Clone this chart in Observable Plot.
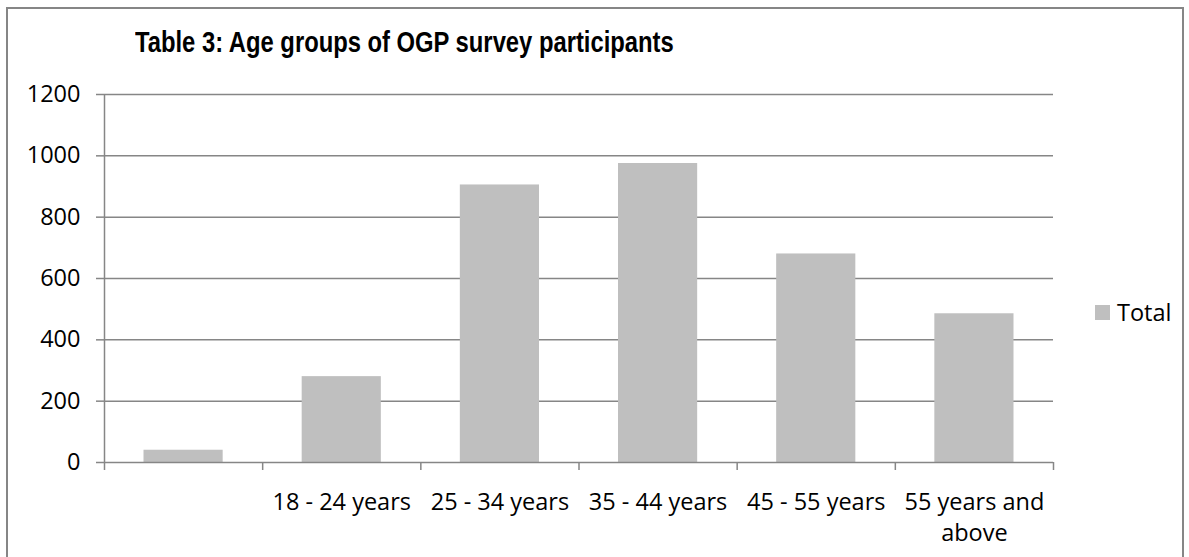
<!DOCTYPE html>
<html>
<head>
<meta charset="utf-8">
<script src="https://cdn.jsdelivr.net/npm/d3@7"></script>
<script src="https://cdn.jsdelivr.net/npm/@observablehq/plot@0.6"></script>
<style>
  html, body { margin: 0; padding: 0; background: #fff; }
  #wrap { position: relative; width: 1189px; height: 557px; overflow: hidden; }
  #frame { position: absolute; left: 6px; top: 7px; width: 1178px; height: 600px; border: 2px solid #868686; box-sizing: border-box; }
  #title { position: absolute; left: 135px; top: 28px; font-family: "Liberation Sans", Arial, sans-serif; font-weight: bold; font-size: 29px; line-height: 1; color: #000; white-space: nowrap; transform: scaleX(0.82); transform-origin: 0 0; }
  #legend { position: absolute; left: 1095px; top: 296px; font-family: "Open Sans", sans-serif; font-size: 23.5px; color: #000; display: flex; align-items: center; }
  #legend .sw { width: 15px; height: 15px; background: #bfbfbf; margin-right: 7px; }
  #chart { position: absolute; left: 0; top: 0; }
</style>
</head>
<body>
<div id="wrap">
  <div id="frame"></div>
  <div id="chart"></div>
  <div id="title">Table 3: Age groups of OGP survey participants</div>
  <div id="legend"><div class="sw"></div><span>Total</span></div>
</div>
<script>
const categories = ["", "18 - 24 years", "25 - 34 years", "35 - 44 years", "45 - 55 years", "55 years and\nabove"];
const totals = [40, 280, 905, 975, 680, 485];
const yTicks = [0, 200, 400, 600, 800, 1000, 1200];

const data = categories.map((c, i) => ({i, label: c, value: totals[i]}));
const bounds = d3.range(categories.length + 1);

const chart = Plot.plot({
  width: 1189,
  height: 557,
  marginLeft: 104,
  marginRight: 136,
  marginTop: 94,
  marginBottom: 95,
  style: {fontFamily: "Open Sans, sans-serif", fontSize: "23.5px", color: "#000", background: "transparent", overflow: "visible"},
  x: {domain: [0, categories.length], label: null},
  y: {domain: [0, 1200], label: null},
  marks: [
    Plot.gridY(yTicks.filter(d => d > 0), {stroke: "#868686", strokeOpacity: 1, strokeWidth: 1.5}),
    Plot.rectY(data, {x1: "i", x2: d => d.i + 1, y: "value", fill: "#bfbfbf", insetLeft: 39.5, insetRight: 39.5}),
    Plot.ruleY([0], {stroke: "#868686", strokeWidth: 1.5}),
    Plot.ruleX([0], {stroke: "#868686", strokeWidth: 1.5}),
    Plot.axisY({ticks: yTicks, tickSize: 8, tickPadding: 16, stroke: "#868686", strokeWidth: 1.5, fill: "#000", label: null, tickFormat: d => String(d)}),
    Plot.axisX({ticks: bounds, tickSize: 8, stroke: "#868686", strokeWidth: 1.5, label: null, tickFormat: () => ""}),
    Plot.text(data, {x: d => d.i + 0.5, y: () => 0, text: "label", lineAnchor: "top", dy: 26, lineHeight: 1.3, fill: "#000"})
  ]
});
document.getElementById("chart").appendChild(chart);
</script>
</body>
</html>
